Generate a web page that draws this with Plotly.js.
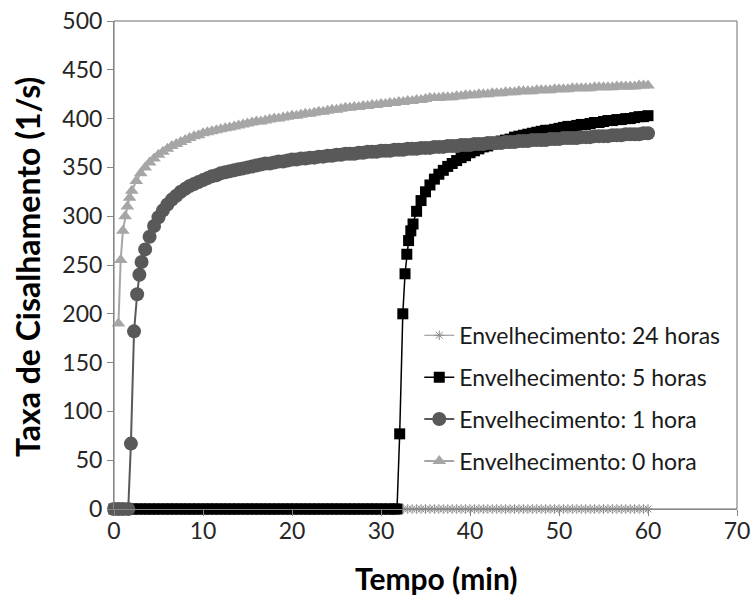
<!DOCTYPE html>
<html>
<head>
<meta charset="utf-8">
<script src="https://cdn.plot.ly/plotly-3.0.1.min.js"></script>
<style>
  html, body { margin: 0; padding: 0; background: #ffffff; }
  #grafico { width: 753px; height: 598px; }
</style>
</head>
<body>
<div id="grafico"></div>
<script>
// Taxa de cisalhamento (1/s) ao longo do tempo (min) para quatro tempos de envelhecimento

const nomes = [
  'Envelhecimento: 24 horas',
  'Envelhecimento: 5 horas',
  'Envelhecimento: 1 hora',
  'Envelhecimento: 0 hora'
];

// 24 horas: sem escoamento durante todo o ensaio
const tempo24h = [
  0,0.5,1,1.5,2,2.5,3,3.5,4,4.5,5,5.5,6,6.5,7,7.5,8,8.5,9,9.5,
  10,10.5,11,11.5,12,12.5,13,13.5,14,14.5,15,15.5,16,16.5,17,17.5,18,18.5,19,19.5,
  20,20.5,21,21.5,22,22.5,23,23.5,24,24.5,25,25.5,26,26.5,27,27.5,28,28.5,29,29.5,
  30,30.5,31,31.5,32,32.5,33,33.5,34,34.5,35,35.5,36,36.5,37,37.5,38,38.5,39,39.5,
  40,40.5,41,41.5,42,42.5,43,43.5,44,44.5,45,45.5,46,46.5,47,47.5,48,48.5,49,49.5,
  50,50.5,51,51.5,52,52.5,53,53.5,54,54.5,55,55.5,56,56.5,57,57.5,58,58.5,59,59.5,
  60
];
const taxa24h = [
  0,0,0,0,0,0,0,0,0,0,0,0,0,0,0,0,0,0,0,0,
  0,0,0,0,0,0,0,0,0,0,0,0,0,0,0,0,0,0,0,0,
  0,0,0,0,0,0,0,0,0,0,0,0,0,0,0,0,0,0,0,0,
  0,0,0,0,0,0,0,0,0,0,0,0,0,0,0,0,0,0,0,0,
  0,0,0,0,0,0,0,0,0,0,0,0,0,0,0,0,0,0,0,0,
  0,0,0,0,0,0,0,0,0,0,0,0,0,0,0,0,0,0,0,0,
  0
];

// 5 horas: escoamento a partir de ~32 min
const tempo5h = [
  0,0.5,1,1.5,2,2.5,3,3.5,4,4.5,5,5.5,6,6.5,7,7.5,8,8.5,9,9.5,
  10,10.5,11,11.5,12,12.5,13,13.5,14,14.5,15,15.5,16,16.5,17,17.5,18,18.5,19,19.5,
  20,20.5,21,21.5,22,22.5,23,23.5,24,24.5,25,25.5,26,26.5,27,27.5,28,28.5,29,29.5,
  30,30.5,31,31.5,
  31.8,32.1,32.45,32.7,32.9,33.1,33.35,33.6,
  34,34.5,35,35.5,36,36.5,37,37.5,38,38.5,
  39,39.5,40,40.5,41,41.5,42,42.5,43,43.5,
  44,44.5,45,45.5,46,46.5,47,47.5,48,48.5,
  49,49.5,50,50.5,51,51.5,52,52.5,53,53.5,
  54,54.5,55,55.5,56,56.5,57,57.5,58,58.5,
  59,59.5,60
];
const taxa5h = [
  0,0,0,0,0,0,0,0,0,0,0,0,0,0,0,0,0,0,0,0,
  0,0,0,0,0,0,0,0,0,0,0,0,0,0,0,0,0,0,0,0,
  0,0,0,0,0,0,0,0,0,0,0,0,0,0,0,0,0,0,0,0,
  0,0,0,0,
  0,77,200,241,261,275,285,292,
  305,316,325,332,338,343,347,351,354,357,
  360,362,365,367,369,371,372,374,375,377,
  378,379,381,382,383,384,385,386,387,388,
  388,389,390,391,392,392,393,394,394,395,
  396,396,397,398,398,399,399,400,400,401,
  402,402,403
];

// 1 hora: escoamento a partir de ~1,8 min
const tempo1h = [
  0,0.5,1,1.6,1.9,2.25,2.6,2.85,3.1,
  3.5,4,4.5,5,5.5,6,6.5,7,7.5,8,
  8.5,9,9.5,10,10.5,11,11.5,12,12.5,13,
  13.5,14,14.5,15,15.5,16,16.5,17,17.5,18,
  18.5,19,19.5,20,20.5,21,21.5,22,22.5,23,
  23.5,24,24.5,25,25.5,26,26.5,27,27.5,28,
  28.5,29,29.5,30,30.5,31,31.5,32,32.5,33,
  33.5,34,34.5,35,35.5,36,36.5,37,37.5,38,
  38.5,39,39.5,40,40.5,41,41.5,42,42.5,43,
  43.5,44,44.5,45,45.5,46,46.5,47,47.5,48,
  48.5,49,49.5,50,50.5,51,51.5,52,52.5,53,
  53.5,54,54.5,55,55.5,56,56.5,57,57.5,58,
  58.5,59,59.5,60
];
const taxa1h = [
  0,0,0,0,67,182,220,240,253,
  266,279,290,299,306,312,317,321,325,328,
  331,333,335,337,339,341,342,344,345,346,
  347,348,349,350,351,352,353,354,354,355,
  356,356,357,358,358,359,359,360,360,361,
  361,362,362,363,363,364,364,364,365,365,
  366,366,366,367,367,367,368,368,368,369,
  369,369,370,370,370,371,371,371,372,372,
  372,373,373,373,374,374,374,375,375,375,
  375,376,376,376,377,377,377,378,378,378,
  378,379,379,379,380,380,380,380,381,381,
  381,382,382,382,382,383,383,383,384,384,
  384,384,385,385
];

// 0 hora: escoamento praticamente imediato
const tempo0h = [
  0.5,0.75,1,1.25,1.5,1.75,2,
  2.5,3,3.5,4,4.5,5,5.5,6,6.5,7,
  7.5,8,8.5,9,9.5,10,10.5,11,11.5,12,
  12.5,13,13.5,14,14.5,15,15.5,16,16.5,17,
  17.5,18,18.5,19,19.5,20,20.5,21,21.5,22,
  22.5,23,23.5,24,24.5,25,25.5,26,26.5,27,
  27.5,28,28.5,29,29.5,30,30.5,31,31.5,32,
  32.5,33,33.5,34,34.5,35,35.5,36,36.5,37,
  37.5,38,38.5,39,39.5,40,40.5,41,41.5,42,
  42.5,43,43.5,44,44.5,45,45.5,46,46.5,47,
  47.5,48,48.5,49,49.5,50,50.5,51,51.5,52,
  52.5,53,53.5,54,54.5,55,55.5,56,56.5,57,
  57.5,58,58.5,59,59.5,60
];
const taxa0h = [
  190,255,285,300,310,319,326,
  336,344,350,355,359,363,366,369,372,374,
  376,378,380,382,383,385,386,387,388,389,
  390,391,392,393,394,395,396,397,397,398,
  399,400,400,401,402,403,403,404,405,405,
  406,407,407,408,409,409,410,411,411,412,
  412,413,413,414,414,415,415,416,416,417,
  417,418,418,419,419,420,421,421,421,422,
  422,422,423,423,424,424,424,425,425,425,
  426,426,426,427,427,427,428,428,428,428,
  429,429,429,429,430,430,430,430,431,431,
  431,431,431,432,432,432,432,432,433,433,
  433,433,433,434,434,434
];

const ticksX = [0, 10, 20, 30, 40, 50, 60, 70];
const ticksY = [0, 50, 100, 150, 200, 250, 300, 350, 400, 450, 500];

const fonte = 'Lato, "Liberation Sans", sans-serif';

function serie(x, y, nome, grupo, cor, simbolo, tamanho, largura) {
  return {
    type: 'scatter',
    mode: 'lines+markers',
    x: x,
    y: y,
    name: nome,
    legendgroup: grupo,
    cliponaxis: false,
    line: { color: cor, width: largura },
    marker: { symbol: simbolo, size: tamanho, color: cor, line: { color: cor, width: simbolo === 'asterisk-open' ? 1 : 0 } }
  };
}

const tracos = [
  serie(tempo24h, taxa24h, nomes[0], 'g24', '#8c8c8c', 'asterisk-open', 8, 1.2),
  serie(tempo5h, taxa5h, nomes[1], 'g5', '#000000', 'square', 11, 1.5),
  serie(tempo1h, taxa1h, nomes[2], 'g1', '#595959', 'circle', 14, 2),
  serie(tempo0h, taxa0h, nomes[3], 'g0', '#a6a6a6', 'triangle-up', 12, 2)
];

const eixoComum = {
  showgrid: false,
  zeroline: false,
  showline: true,
  linecolor: '#868686',
  linewidth: 1,
  ticks: 'outside',
  ticklen: 6,
  tickwidth: 1,
  tickcolor: '#868686',
  tickfont: { family: fonte, size: 23, color: '#262626' },
  fixedrange: true
};

const fonteTitulo = { family: fonte, size: 30, color: '#000000', weight: 'bold' };

const layout = {
  width: 753,
  height: 598,
  margin: { l: 114, r: 16, t: 21, b: 89 },
  paper_bgcolor: '#ffffff',
  plot_bgcolor: '#ffffff',
  showlegend: true,
  legend: {
    x: 0.49,
    y: 0.40,
    xanchor: 'left',
    yanchor: 'top',
    traceorder: 'grouped',
    tracegroupgap: 9,
    bgcolor: 'rgba(255,255,255,0)',
    font: { family: fonte, size: 23, color: '#1a1a1a' },
    itemwidth: 30
  },
  xaxis: Object.assign({}, eixoComum, {
    range: [0, 70],
    tickvals: ticksX,
    ticktext: ticksX.map(String),
    ticklabelstandoff: -5
  }),
  yaxis: Object.assign({}, eixoComum, {
    range: [0, 500],
    tickvals: ticksY,
    ticktext: ticksY.map(String)
  }),
  // títulos dos eixos
  annotations: [{
    text: 'Tempo (min)',
    xref: 'paper', yref: 'paper',
    x: 0.517, y: -0.141,
    xanchor: 'center', yanchor: 'middle',
    showarrow: false,
    font: fonteTitulo
  }, {
    text: 'Taxa de Cisalhamento (1/s)',
    xref: 'paper', yref: 'paper',
    x: -0.138, y: 0.496,
    xanchor: 'center', yanchor: 'middle',
    textangle: -90,
    showarrow: false,
    font: Object.assign({}, fonteTitulo, { size: 32 })
  }],
  shapes: [{
    type: 'rect', xref: 'paper', yref: 'paper', x0: 0, x1: 1, y0: 0, y1: 1,
    line: { color: '#6e6e6e', width: 1 }, fillcolor: 'rgba(0,0,0,0)', layer: 'below'
  }]
};

Plotly.newPlot('grafico', tracos, layout, { staticPlot: true, displayModeBar: false });
</script>
</body>
</html>
